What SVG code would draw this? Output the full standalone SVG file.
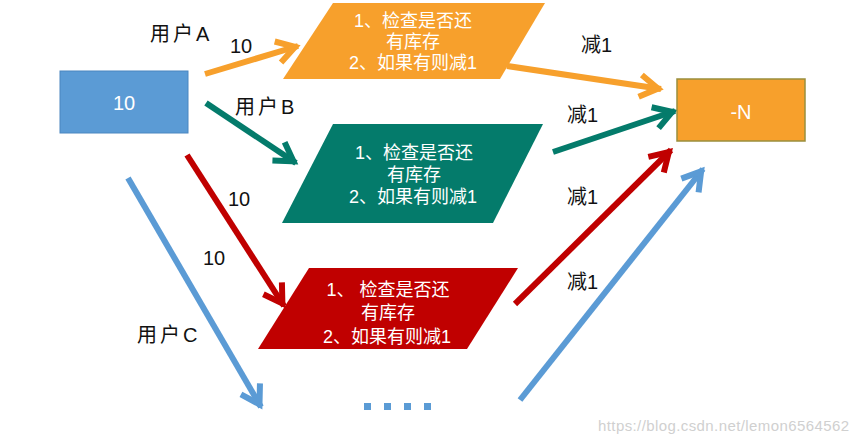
<svg xmlns="http://www.w3.org/2000/svg" width="859" height="443" viewBox="0 0 859 443">
<defs>
<style>
.lbl{font-family:"Liberation Sans","Noto Sans CJK SC",sans-serif;fill:#111;font-size:20px}
.in{font-family:"Liberation Sans","Noto Sans CJK SC",sans-serif;fill:#fff;font-size:18px;text-anchor:middle}
.big{font-family:"Liberation Sans","Noto Sans CJK SC",sans-serif;fill:#fff;font-size:20px;text-anchor:middle}
.ln{fill:none;stroke-width:6}
.o{stroke:#F7A02C}.g{stroke:#047B6B}.r{stroke:#C00000}.b{stroke:#5B9BD5}
</style>
<marker id="mo" markerUnits="userSpaceOnUse" markerWidth="44" markerHeight="44" viewBox="-32 -22 44 44" refX="0" refY="0" orient="auto"><path d="M-21,-11 L-3,0 L-21,11" fill="none" stroke="#F7A02C" stroke-width="6"/></marker>
<marker id="mg" markerUnits="userSpaceOnUse" markerWidth="44" markerHeight="44" viewBox="-32 -22 44 44" refX="0" refY="0" orient="auto"><path d="M-21,-11 L-3,0 L-21,11" fill="none" stroke="#047B6B" stroke-width="6"/></marker>
<marker id="mr" markerUnits="userSpaceOnUse" markerWidth="44" markerHeight="44" viewBox="-32 -22 44 44" refX="0" refY="0" orient="auto"><path d="M-21,-11 L-3,0 L-21,11" fill="none" stroke="#C00000" stroke-width="6"/></marker>
<marker id="mb" markerUnits="userSpaceOnUse" markerWidth="44" markerHeight="44" viewBox="-32 -22 44 44" refX="0" refY="0" orient="auto"><path d="M-21,-11 L-3,0 L-21,11" fill="none" stroke="#5B9BD5" stroke-width="6"/></marker>
</defs>
<rect width="859" height="443" fill="#fff"/>

<g id="connectors">
<line class="ln o" x1="205" y1="74" x2="298" y2="46" marker-end="url(#mo)"/>
<line class="ln o" x1="507" y1="66" x2="661" y2="89" marker-end="url(#mo)"/>
<line class="ln g" x1="206" y1="103" x2="296" y2="163" marker-end="url(#mg)"/>
<line class="ln g" x1="553" y1="152" x2="675" y2="111" marker-end="url(#mg)"/>
<line class="ln r" x1="187" y1="155" x2="284" y2="306" marker-end="url(#mr)"/>
<line class="ln r" x1="515" y1="304" x2="671" y2="150" marker-end="url(#mr)"/>
<line class="ln b" x1="128" y1="178" x2="261" y2="407" marker-end="url(#mb)"/>
<line class="ln b" x1="520" y1="400" x2="703" y2="169" marker-end="url(#mb)"/>
</g>

<g id="labels">
<text class="lbl" x="150" y="41" font-size="21" letter-spacing="3">用户A</text>
<text class="lbl" x="230" y="53">10</text>
<text class="lbl" x="235" y="114" font-size="21" letter-spacing="3">用户B</text>
<text class="lbl" x="228" y="206">10</text>
<text class="lbl" x="203" y="265">10</text>
<text class="lbl" x="137" y="342" font-size="21" letter-spacing="3">用户C</text>
<text class="lbl" x="581" y="52">减1</text>
<text class="lbl" x="567" y="122">减1</text>
<text class="lbl" x="567" y="204">减1</text>
<text class="lbl" x="567" y="289">减1</text>
</g>

<g id="source">
<rect x="60" y="71" width="128" height="62" fill="#5B9BD5" stroke="#4A86C0" stroke-width="1"/>
<text class="big" x="124" y="110">10</text>
</g>

<g id="checkA">
<polygon points="333,3 545,3 500,79 283,79" fill="#F7A02C"/>
<text class="in" x="413" y="27">1、检查是否还</text>
<text class="in" x="413" y="48">有库存</text>
<text class="in" x="413" y="69">2、如果有则减1</text>
</g>

<g id="checkB">
<polygon points="333,124 543,124 493,223 282,223" fill="#047B6B"/>
<text class="in" x="414" y="159">1、检查是否还</text>
<text class="in" x="414" y="181">有库存</text>
<text class="in" x="413" y="203">2、如果有则减1</text>
</g>

<g id="checkC">
<polygon points="309,268 518,268 467,349 258,349" fill="#C00000"/>
<text class="in" x="388" y="296">1、 检查是否还</text>
<text class="in" x="388" y="319">有库存</text>
<text class="in" x="387" y="343">2、如果有则减1</text>
</g>

<g id="result">
<rect x="677" y="79" width="128" height="62" fill="#F7A02C" stroke="#9A8F3C" stroke-width="1.5"/>
<text class="big" x="741" y="119">-N</text>
</g>

<g id="more">
<rect x="364" y="403" width="7" height="7" fill="#5B9BD5"/>
<rect x="384" y="403" width="7" height="7" fill="#5B9BD5"/>
<rect x="404" y="403" width="7" height="7" fill="#5B9BD5"/>
<rect x="424" y="403" width="7" height="7" fill="#5B9BD5"/>
</g>

<text x="598" y="431" font-family="Liberation Sans, sans-serif" font-size="15" fill="#D0D0D0" textLength="251">https://blog.csdn.net/lemon6564562</text>
</svg>
